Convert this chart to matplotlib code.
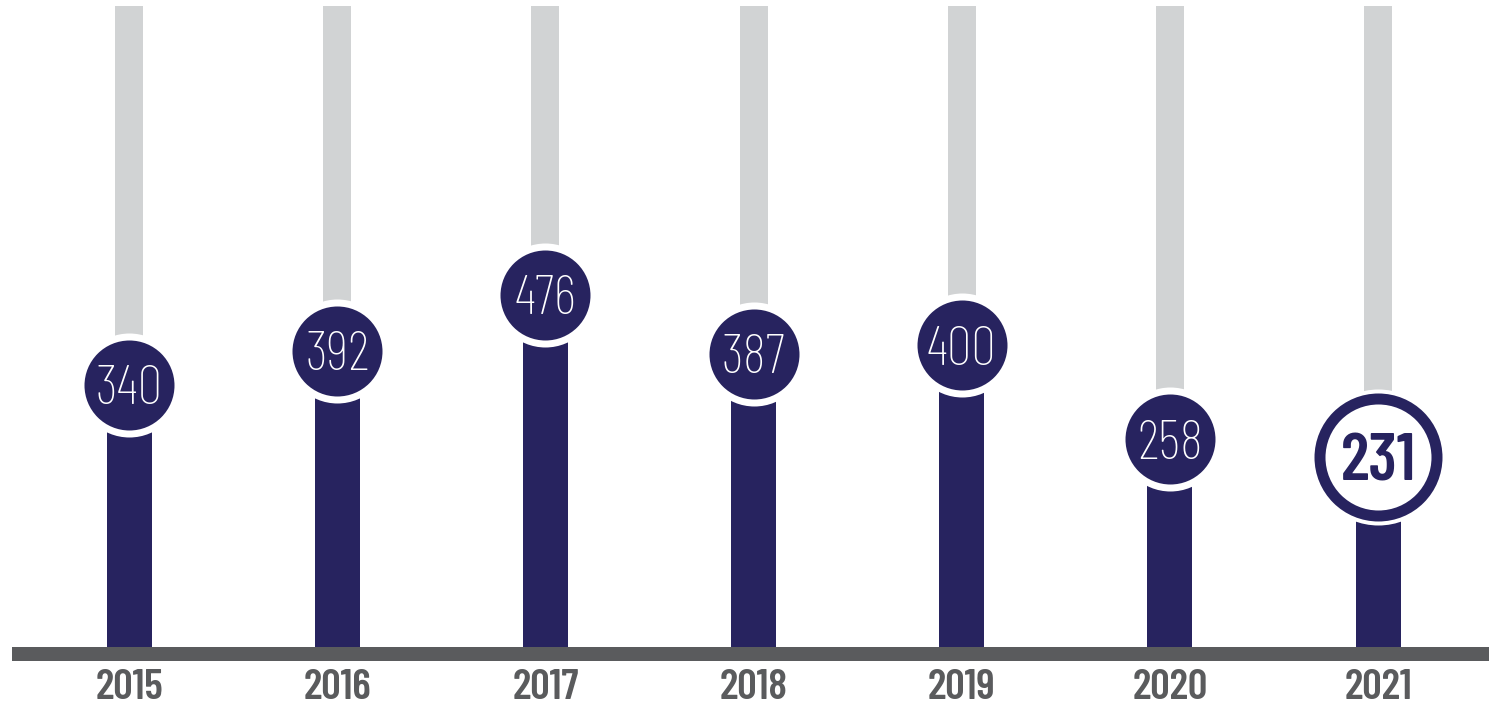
import matplotlib
matplotlib.use("Agg")
from matplotlib import pyplot as plt
import numpy as np

## Dados do grafico
anos = ['2015', '2016', '2017', '2018', '2019', '2020', '2021']
valores = [340, 392, 476, 387, 400, 258, 231]
destaque = '2021'

## Cores
NAVY = '#27235f'
CINZA_CLARO = '#d1d3d4'
CINZA_ESCURO = '#5a5b5d'

## Fonte estreita (cai para DejaVu se nao existir)
FONTES = ['Barlow Condensed', 'DejaVu Sans']

W, H, DPI = 1489, 709, 100
fig = plt.figure(figsize=(W / DPI, H / DPI), dpi=DPI)
ax = fig.add_axes([0, 0, 1, 1])
ax.set_xlim(-0.62, 6.533)
ax.set_ylim(-150, 922)
ax.axis('off')

x = np.arange(len(anos))
base = -67
topo = 913

## Barras de fundo (cinza) e barras de valor (azul)
ax.bar(x, topo - base, bottom=base, width=0.1345, color=CINZA_CLARO, zorder=1)
ax.bar(x, np.array(valores) - base, bottom=base, width=0.216, color=NAVY, zorder=2)

## Linha de base
ax.axhline(base, xmin=12 / W, xmax=1, color=CINZA_ESCURO, lw=14 * 72 / DPI,
           solid_capstyle='butt', zorder=3)

px = 72 / DPI  # pixels -> pontos
for xi, ano, v in zip(x, anos, valores):
    if ano == destaque:
        ax.scatter(xi, v, s=(136 * px) ** 2, color='white', zorder=4, linewidths=0)
        ax.scatter(xi, v, s=(128 * px) ** 2, color=NAVY, zorder=5, linewidths=0)
        ax.scatter(xi, v, s=(106 * px) ** 2, color='white', zorder=6, linewidths=0)
        ax.text(xi, v, str(v), ha='center', va='center_baseline', color=NAVY,
                fontsize=48, fontweight='semibold', family=FONTES, zorder=7)
    else:
        ax.scatter(xi, v, s=(104 * px) ** 2, color='white', zorder=4, linewidths=0)
        ax.scatter(xi, v, s=(90 * px) ** 2, color=NAVY, zorder=5, linewidths=0)
        ax.text(xi, v, str(v), ha='center', va='center_baseline', color='white',
                fontsize=40, fontweight='light', family=FONTES, zorder=7)
    ax.text(xi, -118, ano, ha='center', va='center', color=CINZA_ESCURO,
            fontsize=31, fontweight='semibold', family=FONTES)

fig.savefig('out.png', dpi=DPI, facecolor='white')
